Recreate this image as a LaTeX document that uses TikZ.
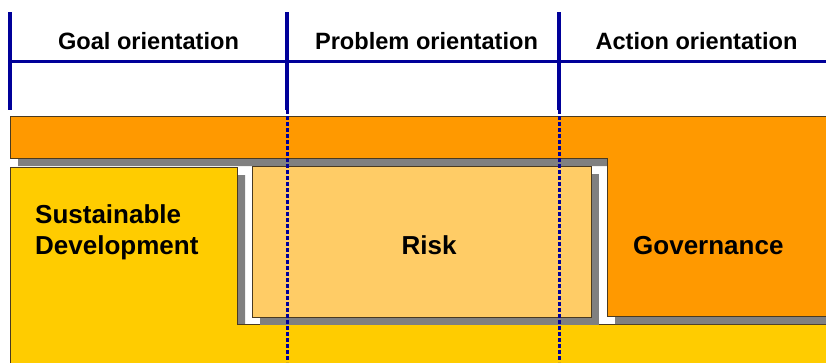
\documentclass[tikz,border=0pt]{standalone}
\usepackage{fontspec}
\setmainfont{Liberation Sans}
\definecolor{cOrange}{HTML}{FF9900}
\definecolor{cYellow}{HTML}{FFCC00}
\definecolor{cRisk}{HTML}{FFCC66}
\definecolor{cShadow}{HTML}{808080}
\definecolor{cBlue}{HTML}{000099}
\definecolor{cEdge}{HTML}{4A3A20}
\begin{document}
\begin{tikzpicture}[x=1pt,y=-1pt,
  shadowfill/.style={fill=cShadow,draw=none},
  shapeedge/.style={draw=cEdge,line width=0.9pt},
  bluesolid/.style={draw=cBlue,line width=3.2pt},
  bluedots/.style={draw=cBlue,line width=3pt,dash pattern=on 3.5pt off 2.5pt},
  headtext/.style={font=\bfseries\fontsize{23.6}{28}\selectfont,inner sep=0pt,anchor=base},
  labeltext/.style={font=\bfseries\fontsize{26}{31}\selectfont,inner sep=0pt}]
\useasboundingbox (0,0) rectangle (826,362);
\begin{scope}
\clip (0,0) rectangle (826,362);
% yellow shape (Sustainable Development + bottom band)
\fill[shadowfill,shift={(8,8)}] (10,167) -- (237,167) -- (237,324) -- (840,324) -- (840,380) -- (10,380) -- cycle;
\filldraw[fill=cYellow,shapeedge] (10,167) -- (237,167) -- (237,324) -- (840,324) -- (840,380) -- (10,380) -- cycle;
% orange shape (top bar + Governance)
\fill[shadowfill,shift={(8,8)}] (10,116) -- (840,116) -- (840,316) -- (607,316) -- (607,158) -- (10,158) -- cycle;
\filldraw[fill=cOrange,shapeedge] (10,116) -- (840,116) -- (840,316) -- (607,316) -- (607,158) -- (10,158) -- cycle;
% risk box
\fill[shadowfill] (260,174) rectangle (599,325);
\filldraw[fill=cRisk,shapeedge] (252,166) rectangle (591,317);
\end{scope}
% header lines
\coordinate (l0t) at (10,12);
\coordinate (l0b) at (10,110);
\coordinate (l1t) at (287,12);
\coordinate (l1b) at (287,110);
\coordinate (l1e) at (287,362);
\coordinate (l2t) at (559,12);
\coordinate (l2b) at (559,110);
\coordinate (l2e) at (559,362);
\coordinate (hl) at (10,61.5);
\coordinate (hr) at (826,61.5);
\draw[bluedots] (l1b) -- (l1e);
\draw[bluedots] (l2b) -- (l2e);
\draw[bluesolid] (hl) -- (hr);
\draw[bluesolid] (l0t) -- (l0b);
\draw[bluesolid] (l1t) -- (l1b);
\draw[bluesolid] (l2t) -- (l2b);
% header texts
\node[headtext] (goal) at (148.5,49) {Goal orientation};
\node[headtext] (prob) at (426.5,49) {Problem orientation};
\node[headtext] (act) at (696.5,49) {Action orientation};
% labels
\node[labeltext,anchor=base west] (sd1) at (35,223) {Sustainable};
\node[labeltext,anchor=base west] (sd2) at (35,254) {Development};
\node[labeltext,anchor=base] (risk) at (429,254) {Risk};
\node[labeltext,anchor=base west] (gov) at (633,254) {Governance};
\end{tikzpicture}
\end{document}
